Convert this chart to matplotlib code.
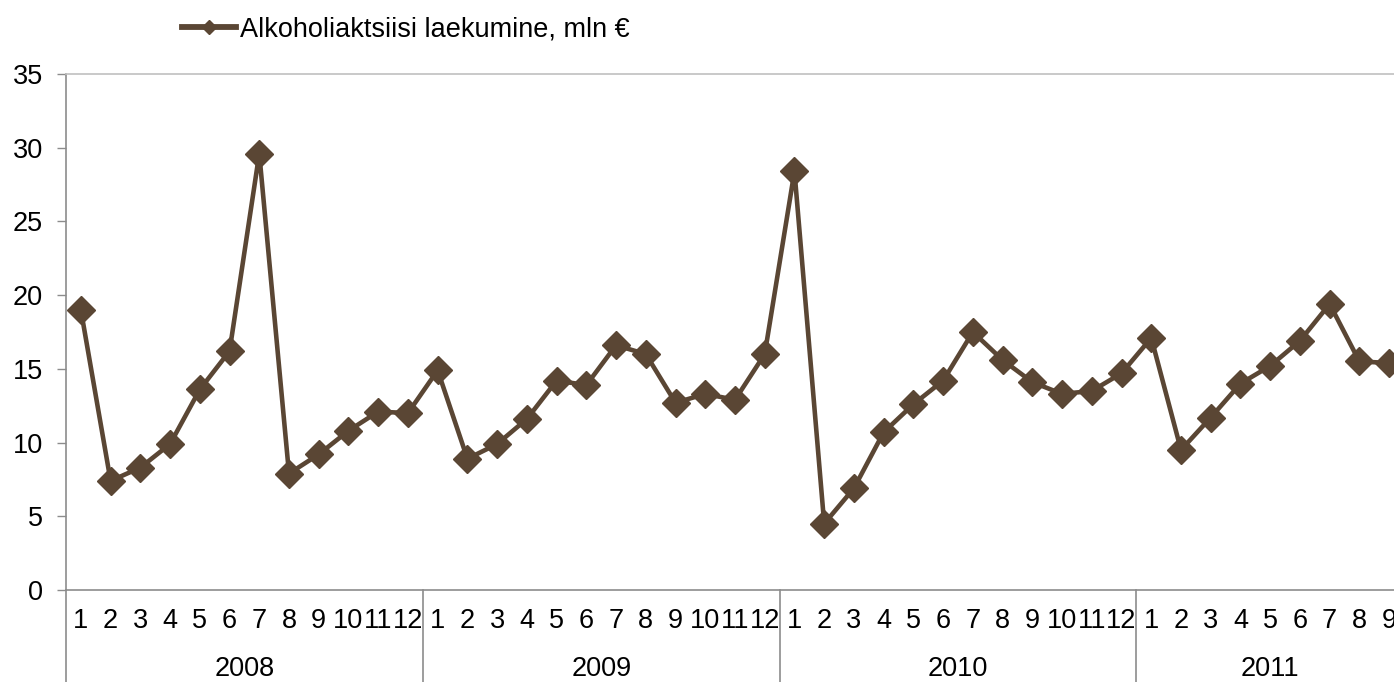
import numpy as np
import matplotlib.pyplot as plt
from matplotlib.lines import Line2D

plt.rcParams['font.family'] = ['Liberation Sans', 'DejaVu Sans']

# monthly alcohol excise revenue, mln EUR
years = ['2008', '2009', '2010', '2011']
months_per_year = [12, 12, 12, 9]
values_2008 = [19.0, 7.4, 8.3, 9.9, 13.6, 16.2, 29.6, 7.9, 9.2, 10.8, 12.1, 12.0]
values_2009 = [14.9, 8.9, 9.9, 11.6, 14.2, 13.9, 16.6, 16.0, 12.7, 13.3, 12.9, 16.0]
values_2010 = [28.4, 4.5, 6.9, 10.7, 12.6, 14.2, 17.5, 15.6, 14.1, 13.3, 13.5, 14.7]
values_2011 = [17.1, 9.5, 11.7, 14.0, 15.2, 16.9, 19.4, 15.5, 15.4]
series_label = 'Alkoholiaktsiisi laekumine, mln €'

values = values_2008 + values_2009 + values_2010 + values_2011
month_labels = []
for n in months_per_year:
    month_labels += [str(m) for m in range(1, n + 1)]
x = np.arange(len(values))

brown = '#5a4634'
axis_gray = '#8c8c8c'
fs = 19.5

W, H = 1394, 682
fig = plt.figure(figsize=(W / 100, H / 100), dpi=100)
# plot area runs a bit past the right edge, like the original cut-off chart
ax = fig.add_axes([66 / W, (H - 590) / H, (1404 - 66) / W, (590 - 74) / H])

ax.plot(x, values, color=brown, lw=3.3, marker='D', ms=14.5, zorder=3, clip_on=False)

ax.set_xlim(-0.5, len(values) - 0.5)
ax.set_ylim(0, 35)
ax.set_yticks(np.arange(0, 36, 5))
ax.tick_params(axis='y', length=6.5, width=1, color=axis_gray, labelsize=fs, pad=10)
ax.set_xticks([])

for s in ['left', 'bottom']:
    ax.spines[s].set_color(axis_gray)
    ax.spines[s].set_linewidth(1.2)
ax.spines['top'].set_color('#c0c0c0')
ax.spines['top'].set_linewidth(1.2)
ax.spines['right'].set_visible(False)

# two-level category axis: months then years
trans = ax.get_xaxis_transform()
for xi, lab in zip(x, month_labels):
    ax.text(xi, -0.06, lab, transform=trans, ha='center', va='center', fontsize=fs)

start = 0
for yr, n in zip(years, months_per_year):
    ax.plot([start - 0.5, start - 0.5], [0, -0.2], transform=trans, color=axis_gray,
            lw=1.2, clip_on=False)
    ax.text(start + (n - 1) / 2, -0.153, yr, transform=trans, ha='center', va='center',
            fontsize=fs)
    start += n

handle = Line2D([], [], color=brown, lw=4.2, marker='D', ms=7)
ax.legend([handle], [series_label], loc='center left', frameon=False,
          bbox_to_anchor=(182 / W, 1 - 29 / H), bbox_transform=fig.transFigure,
          fontsize=fs, handlelength=2.0, handletextpad=0.15, borderpad=0, borderaxespad=0)

plt.savefig('out.png', dpi=100)
